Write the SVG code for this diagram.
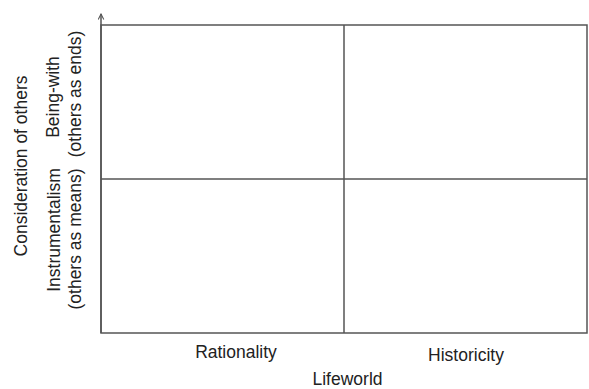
<svg xmlns="http://www.w3.org/2000/svg" width="589" height="389" viewBox="0 0 589 389">
<style>
.t{font-family:"Liberation Sans",Arial,sans-serif;font-size:17.5px;fill:#222;text-anchor:middle}
.ln{stroke:#555;stroke-width:1.5;fill:none}
</style>
<defs>
<marker id="arr" viewBox="0 0 10 10" refX="9" refY="5" markerWidth="7" markerHeight="7" orient="auto" markerUnits="userSpaceOnUse">
<path d="M1,1 L9,5 L1,9" fill="none" stroke="#555" stroke-width="1.5"/>
</marker>
</defs>
<rect width="589" height="389" fill="#fff"/>
<g id="connectors">
<line class="ln" x1="101" y1="333" x2="101" y2="14" marker-end="url(#arr)"/>
</g>
<g id="grid">
<rect class="ln" x="101" y="25" width="486" height="308"/>
<line class="ln" x1="344" y1="25" x2="344" y2="333"/>
<line class="ln" x1="101" y1="179" x2="587" y2="179"/>
</g>
<g id="x-labels">
<text class="t" x="236" y="358">Rationality</text>
<text class="t" x="466" y="360.5">Historicity</text>
<text class="t" x="347.5" y="385">Lifeworld</text>
</g>
<g id="y-labels">
<text class="t" transform="translate(27,166) rotate(-90)">Consideration of others</text>
<text class="t" transform="translate(59,97) rotate(-90)">Being-with</text>
<text class="t" transform="translate(81,94) rotate(-90)">(others as ends)</text>
<text class="t" transform="translate(60,230) rotate(-90)">Instrumentalism</text>
<text class="t" transform="translate(81,239) rotate(-90)">(others as means)</text>
</g>
</svg>
